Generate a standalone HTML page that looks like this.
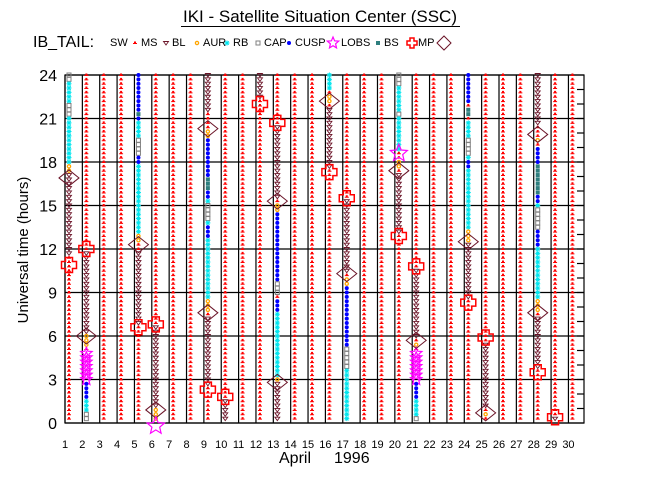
<!DOCTYPE html>
<html><head><meta charset="utf-8">
<style>
body{margin:0;background:#fff;}
svg{display:block;font-family:"Liberation Sans",sans-serif;}
</style></head>
<body>
<svg id="chart" width="650" height="500" viewBox="0 0 650 500" xmlns="http://www.w3.org/2000/svg">
<rect width="650" height="500" fill="#fff"/>
<text x="320" y="22" font-size="17" text-anchor="middle">IKI - Satellite Situation Center (SSC)</text>
<line x1="181" y1="26.5" x2="460" y2="26.5" stroke="#000" stroke-width="1"/>
<text x="33" y="47" font-size="16">IB_TAIL:</text>
<g id="legend"></g>
<g id="grid"></g>
<g id="marks"></g>
<g id="axes"></g>
<text x="279" y="463" font-size="16">April</text>
<text x="334" y="463" font-size="16">1996</text>
<text transform="translate(28,250) rotate(-90)" font-size="15" text-anchor="middle">Universal time (hours)</text>
</svg>
<script>
const days = [1,2,3,4,5,6,7,8,9,10,11,12,13,14,15,16,17,18,19,20,21,22,23,24,25,26,27,28,29,30];
const hourTicks = [0,3,6,9,12,15,18,21,24];
// segments: [day, type, fromHour, toHour]  (anything not covered = SW)
const segDay = [];
const segType = [];
const segFrom = [];
const segTo = [];
const segments = [
 [1,'CAP',23.5,24],[1,'RB',22.2,23.4],[1,'CAP',21.3,22.1],[1,'RB',17.9,21.1],[1,'AUR',17.3,17.7],[1,'BL',11.5,17.2],
 [2,'BL',6.2,11.8],[2,'AUR',5.3,6.0],[2,'LOBS',3.0,5.0],[2,'CUSP',1.8,2.7],[2,'RB',0.8,1.7],[2,'CAP',0,0.7],
 [5,'CUSP',21.6,24],[5,'BS',21.3,21.5],[5,'CUSP',21.0,21.2],[5,'RB',19.8,20.9],[5,'CAP',18.6,19.7],[5,'CUSP',17.9,18.4],[5,'RB',13.1,17.8],[5,'AUR',12.4,13.0],[5,'BL',6.8,11.9],
 [6,'BL',1.1,6.6],[6,'AUR',0.2,0.9],
 [9,'BL',21.5,24],[9,'AUR',19.7,20.2],[9,'CUSP',17.1,19.5],[9,'BS',16.2,17.0],[9,'CUSP',15.6,16.1],[9,'RB',15.3,15.5],[9,'CAP',14.0,15.1],[9,'RB',13.7,13.9],[9,'CUSP',12.9,13.6],[9,'RB',8.5,12.6],[9,'AUR',7.6,8.4],[9,'BL',2.7,7.4],
 [10,'BL',0,1.6],
 [12,'BL',22.3,24],
 [13,'BL',15.6,20.4],[13,'AUR',14.7,15.1],[13,'CUSP',11.7,14.5],[13,'BS',11.5,11.6],[13,'CUSP',10.8,11.4],[13,'CUSP',9.9,10.7],[13,'CAP',8.8,9.9],[13,'CUSP',7.8,8.6],[13,'RB',3.2,7.6],[13,'AUR',3.0,3.1],[13,'BL',0,2.7],
 [16,'RB',22.9,24],[16,'AUR',22.0,22.7],[16,'BL',17.7,21.8],
 [17,'BL',10.5,15.4],[17,'AUR',9.6,10.1],[17,'CUSP',5.3,9.4],[17,'CAP',3.9,5.1],[17,'RB',0,3.7],
 [20,'CAP',23.3,24],[20,'RB',21.6,23.1],[20,'CAP',21.3,21.5],[20,'RB',18.8,21.1],[20,'AUR',17.7,18.1],[20,'BL',13.1,17.2],
 [21,'BL',6.0,10.5],[21,'AUR',5.3,5.5],[21,'LOBS',3.0,4.8],[21,'CUSP',1.8,2.9],[21,'RB',0.5,1.6],[21,'CAP',0,0.4],
 [24,'CUSP',22.0,24],[24,'BS',21.1,21.8],[24,'RB',19.7,20.9],[24,'CAP',18.6,19.6],[24,'RB',18.3,18.5],[24,'CUSP',17.7,18.2],[24,'RB',13.5,17.5],[24,'AUR',12.6,13.3],[24,'BL',8.5,12.3],
 [25,'BL',1.1,5.4],[25,'AUR',0.5,0.8],[25,'CUSP',0,0.2],
 [28,'BL',20.6,24],[28,'AUR',19.5,19.7],[28,'CUSP',17.9,19.1],[28,'BS',15.8,17.8],[28,'CUSP',15.2,15.7],[28,'RB',14.9,15.1],[28,'CAP',13.5,14.8],[28,'CUSP',12.3,13.3],[28,'RB',8.5,12.0],[28,'AUR',7.7,8.4],[28,'BL',3.8,7.4],
 [29,'BL',0,0.3]
];
// big event symbols: [day, type, hour]
const events = [
 [1,'DIA',16.9],[1,'MP',10.9],
 [2,'MP',12.0],[2,'DIA',6.0],
 [5,'DIA',12.3],[5,'MP',6.6],
 [6,'MP',6.8],[6,'DIA',0.9],[6,'STAR',-0.2],
 [9,'DIA',20.3],[9,'DIA',7.6],[9,'MP',2.3],
 [10,'MP',1.8],
 [12,'MP',22.0],
 [13,'MP',20.7],[13,'DIA',15.3],[13,'DIA',2.8],
 [16,'DIA',22.2],[16,'MP',17.3],
 [17,'MP',15.5],[17,'DIA',10.3],
 [20,'STAR',18.6],[20,'DIA',17.4],[20,'MP',12.9],
 [21,'MP',10.8],[21,'DIA',5.7],
 [24,'DIA',12.5],[24,'MP',8.3],
 [25,'MP',5.9],[25,'DIA',0.7],
 [28,'DIA',19.9],[28,'DIA',7.6],[28,'MP',3.5],
 [29,'MP',0.4]
];
segments.forEach(s=>{segDay.push(s[0]);segType.push(s[1]);segFrom.push(s[2]);segTo.push(s[3]);});

const NS='http://www.w3.org/2000/svg';
const X0=65, DX=17.36, Y0=423, YH=14.5, XR=584, YT=75;
const xScale = d => X0 + DX*(d-1);
const yScale = h => Y0 - YH*h;
const COL={SW:'#ff0000',MS:'#ff0000',BL:'#6b1428',AUR:'#ffa500',RB:'#00e5ee',CAP:'#808080',CUSP:'#0000ff',LOBS:'#ff00ff',BS:'#2f7f7f',MP:'#ff0000',DIA:'#6b1428'};
function mk(tag,attrs,parent){const e=document.createElementNS(NS,tag);for(const k in attrs)e.setAttribute(k,attrs[k]);parent.appendChild(e);return e;}

function drawSym(type,x,y,parent,big){
  let e;
  if(type==='SW'||type==='MS'){
    e=mk('path',{d:`M${x-2},${y+1}h4v-1h-1v-1.5h-2v1.5h-1z`,fill:COL.SW},parent);
  } else if(type==='BL'){
    e=mk('path',{d:`M${x-2.5},${y-1.5}h5l-2.5,3.5z`,fill:'none',stroke:COL.BL,'stroke-width':0.9},parent);
  } else if(type==='AUR'){
    e=mk('circle',{cx:x,cy:y,r:1.6,fill:'none',stroke:COL.AUR,'stroke-width':1.3},parent);
  } else if(type==='RB'){
    e=mk('path',{d:`M${x-2.5},${y}h5M${x},${y-2.5}v5M${x-1.8},${y-1.8}l3.6,3.6M${x+1.8},${y-1.8}l-3.6,3.6`,stroke:COL.RB,'stroke-width':1},parent);
  } else if(type==='CAP'){
    e=mk('rect',{x:x-2,y:y-2,width:4,height:4,fill:'none',stroke:COL.CAP,'stroke-width':1},parent);
  } else if(type==='CUSP'){
    e=mk('circle',{cx:x,cy:y,r:2,fill:COL.CUSP},parent);
  } else if(type==='BS'){
    e=mk('rect',{x:x-2,y:y-2,width:4,height:4,fill:COL.BS},parent);
  } else if(type==='LOBS'||type==='STAR'){
    const r=big?9:6, ri=r*0.45; let p='';
    for(let i=0;i<10;i++){const a=-Math.PI/2+i*Math.PI/5;const rr=i%2?ri:r;p+=(i?'L':'M')+(x+rr*Math.cos(a)).toFixed(1)+','+(y+rr*Math.sin(a)).toFixed(1);}
    e=mk('path',{d:p+'z',fill:'none',stroke:COL.LOBS,'stroke-width':1.2},parent);
  } else if(type==='MP'){
    const a=big?3.5:2,b=big?7.5:5;
    e=mk('path',{d:`M${x-a},${y-b}h${2*a}v${b-a}h${b-a}v${2*a}h${a-b}v${b-a}h${-2*a}v${a-b}h${a-b}v${-2*a}h${b-a}z`,fill:'none',stroke:COL.MP,'stroke-width':1.5},parent);
  } else if(type==='DIA'){
    const w=big?10:7,h=big?8:7;
    e=mk('path',{d:`M${x-w},${y}L${x},${y-h}L${x+w},${y}L${x},${y+h}z`,fill:'none',stroke:COL.DIA,'stroke-width':1},parent);
  }
  return e;
}

// grid
const grid=document.getElementById('grid');
days.forEach(d=>{
  const l=mk('line',{x1:xScale(d),y1:YT,x2:xScale(d),y2:Y0,stroke:'#000','stroke-width':1.2},grid);
  
  
});
hourTicks.forEach(h=>{
  const l=mk('line',{x1:X0,y1:yScale(h),x2:XR,y2:yScale(h),stroke:'#000','stroke-width':1.2},grid);
  
  
});
const frame=mk('rect',{x:X0,y:YT,width:XR-X0,height:Y0-YT,fill:'none',stroke:'#000','stroke-width':1.2},grid);


for(let h=1;h<24;h++){
  const t=mk('line',{x1:XR-7,y1:yScale(h),x2:XR,y2:yScale(h),stroke:'#000','stroke-width':1.2},grid);
  
  
}

// marks
const marks=document.getElementById('marks');
const STEP=0.3;
days.forEach(d=>{
  const g=mk('g',{},marks);
  
  
  const x=xScale(d)+4;
  for(let h=24; h>=0; h-=STEP){
    let type='SW';
    for(let i=0;i<segDay.length;i++){
      if(segDay[i]===d && h>=segFrom[i]-0.01 && h<=segTo[i]+0.01){type=segType[i];break;}
    }
    const e=drawSym(type,x,yScale(h),g,false);
    
    
  }
});
events.forEach(ev=>{
  const e=drawSym(ev[1],xScale(ev[0])+4,yScale(ev[2]),marks,true);
  
  
});

// axes labels
const axes=document.getElementById('axes');
days.forEach(d=>{
  const t=mk('text',{x:xScale(d),y:448,'font-size':11,'text-anchor':'middle'},axes);
  t.textContent=d;
  
  
});
hourTicks.forEach(h=>{
  const t=mk('text',{x:57,y:yScale(h)+6,'font-size':16,'text-anchor':'end'},axes);
  t.textContent=h;
  
  
});

// legend
const leg=document.getElementById('legend');
const legItems=[['SW',null,110],['MS','SW',135],['BL','BL',166],['AUR','AUR',197],['RB','RB',227],['CAP','CAP',258],['CUSP','CUSP',289],['LOBS','LOBS',333],['BS','BS',378],['MP','MP',412],['','DIA',444]];
legItems.forEach(it=>{
  if(it[1]){
    const s=drawSym(it[1],it[2],43,leg,false);
    
    
  }
  if(it[0]){
    const off = it[1]?(it[1]==='LOBS'?8:6):0;
    const t=mk('text',{x:it[2]+off,y:46,'font-size':11},leg);
    t.textContent=it[0];
    
    
  }
});
</script>
</body></html>
